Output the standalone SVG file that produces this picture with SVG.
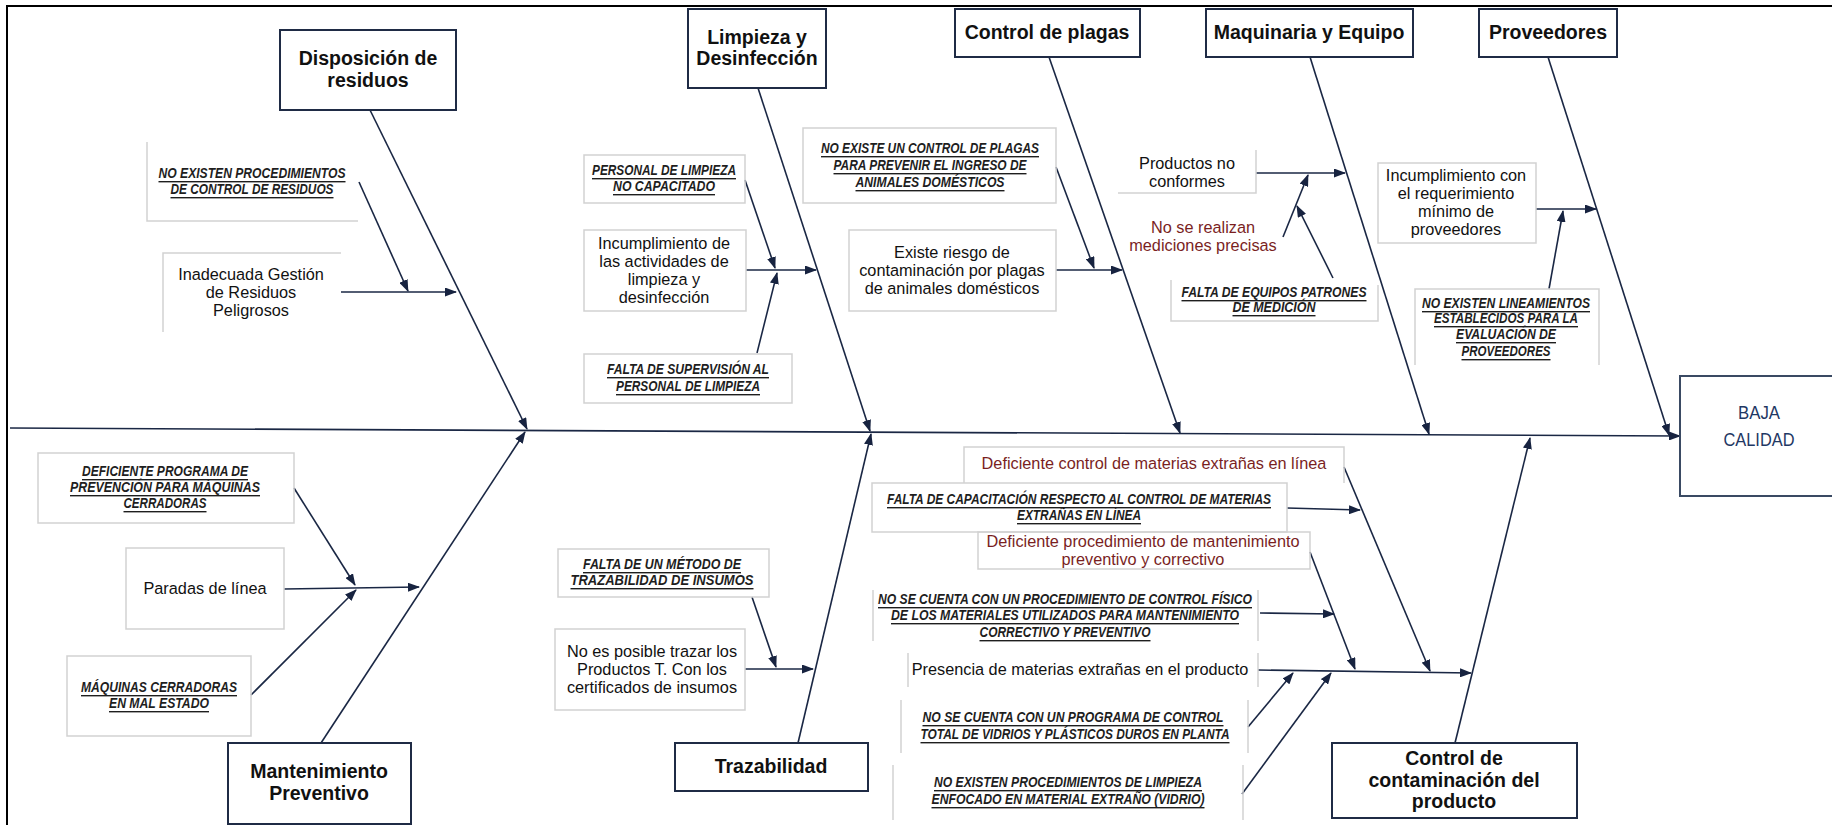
<svg xmlns="http://www.w3.org/2000/svg" width="1832" height="825" viewBox="0 0 1832 825">
<style>
.cat{fill:#fff;stroke:#1f2b45;stroke-width:2}
.ct{font-family:"Liberation Sans",Arial,sans-serif;font-weight:bold;font-size:19.5px;fill:#111;text-anchor:middle;dominant-baseline:central}
.sb{fill:none;stroke:#d2d2d2;stroke-width:1.5}
.t{font-family:"Liberation Sans",Arial,sans-serif;font-size:16.3px;fill:#111;text-anchor:middle;dominant-baseline:central}
.red{fill:#7a1f1f}
.it{font-family:"Liberation Sans Narrow","Liberation Sans",Arial,sans-serif;font-weight:bold;font-style:italic;font-size:14px;fill:#1e1e1e;text-anchor:middle;dominant-baseline:central;text-decoration:underline}
.c{stroke:#1a2744;stroke-width:1.6;fill:none;marker-end:url(#ah)}
.bj{font-family:"Liberation Sans Narrow","Liberation Sans",Arial,sans-serif;font-size:19px;fill:#1f3864;text-anchor:middle;dominant-baseline:central}
</style>
<defs>
<marker id="ah" markerUnits="userSpaceOnUse" markerWidth="12" markerHeight="9" refX="11" refY="4.5" orient="auto">
<path d="M0,0 L12,4.5 L0,9 z" fill="#172340"/>
</marker>
</defs>
<rect width="1832" height="825" fill="#fff"/>
<path d="M7,825 V6 H1832" fill="none" stroke="#000" stroke-width="2"/>

<g id="connectors">
<line class="c" x1="10" y1="428" x2="1680" y2="436"/>
<line class="c" x1="370" y1="110" x2="527" y2="429"/>
<line class="c" x1="321" y1="743" x2="525" y2="432"/>
<line class="c" x1="758" y1="88" x2="870" y2="431"/>
<line class="c" x1="798" y1="743" x2="871" y2="434"/>
<line class="c" x1="1049" y1="57" x2="1180" y2="433"/>
<line class="c" x1="1310" y1="57" x2="1429" y2="434"/>
<line class="c" x1="1548" y1="57" x2="1669" y2="435"/>
<line class="c" x1="1455" y1="743" x2="1530" y2="438"/>
<line class="c" x1="359" y1="182" x2="408" y2="291"/>
<line class="c" x1="341" y1="292" x2="456" y2="292"/>
<line class="c" x1="745" y1="180" x2="775" y2="268"/>
<line class="c" x1="746" y1="270" x2="816" y2="270"/>
<line class="c" x1="757" y1="353" x2="777" y2="273"/>
<line class="c" x1="1056" y1="167" x2="1094" y2="268"/>
<line class="c" x1="1056" y1="270" x2="1122" y2="270"/>
<line class="c" x1="1256" y1="173" x2="1345" y2="173"/>
<line class="c" x1="1283" y1="237" x2="1308" y2="175"/>
<line class="c" x1="1333" y1="278" x2="1297" y2="206"/>
<line class="c" x1="1536" y1="209" x2="1596" y2="209"/>
<line class="c" x1="1549" y1="289" x2="1563" y2="211"/>
<line class="c" x1="294" y1="488" x2="355" y2="585"/>
<line class="c" x1="284" y1="589" x2="419" y2="587"/>
<line class="c" x1="251" y1="695" x2="356" y2="590"/>
<line class="c" x1="752" y1="597" x2="776" y2="667"/>
<line class="c" x1="745" y1="669" x2="813" y2="669"/>
<line class="c" x1="1344" y1="467" x2="1430" y2="671"/>
<line class="c" x1="1287" y1="508" x2="1360" y2="510"/>
<line class="c" x1="1310" y1="552" x2="1355" y2="669"/>
<line class="c" x1="1260" y1="613" x2="1334" y2="614"/>
<line class="c" x1="1258" y1="670" x2="1471" y2="673"/>
<line class="c" x1="1248" y1="727" x2="1293" y2="673"/>
<line class="c" x1="1242" y1="794" x2="1331" y2="673"/>
</g>

<g id="baja-calidad">
<rect x="1680" y="376" width="170" height="120" fill="#fff" stroke="#3a4a63" stroke-width="2"/>
<text class="bj" x="1759" y="412" textLength="42" lengthAdjust="spacingAndGlyphs">BAJA</text>
<text class="bj" x="1759" y="439" textLength="71" lengthAdjust="spacingAndGlyphs">CALIDAD</text>
</g>

<g id="cat-disposicion">
<rect class="cat" x="280" y="30" width="176" height="80"/>
<text class="ct" x="368" y="58">Disposición de</text>
<text class="ct" x="368" y="80">residuos</text>
</g>
<g id="cat-limpieza">
<rect class="cat" x="688" y="9" width="138" height="79"/>
<text class="ct" x="757" y="37">Limpieza y</text>
<text class="ct" x="757" y="58">Desinfección</text>
</g>
<g id="cat-plagas">
<rect class="cat" x="955" y="9" width="185" height="48"/>
<text class="ct" x="1047" y="32">Control de plagas</text>
</g>
<g id="cat-maquinaria">
<rect class="cat" x="1206" y="9" width="207" height="48"/>
<text class="ct" x="1309" y="32">Maquinaria y Equipo</text>
</g>
<g id="cat-proveedores">
<rect class="cat" x="1479" y="9" width="138" height="48"/>
<text class="ct" x="1548" y="32">Proveedores</text>
</g>
<g id="cat-mantenimiento">
<rect class="cat" x="228" y="743" width="183" height="81"/>
<text class="ct" x="319" y="771">Mantenimiento</text>
<text class="ct" x="319" y="793">Preventivo</text>
</g>
<g id="cat-trazabilidad">
<rect class="cat" x="675" y="743" width="193" height="48"/>
<text class="ct" x="771" y="766">Trazabilidad</text>
</g>
<g id="cat-contaminacion">
<rect class="cat" x="1332" y="743" width="245" height="75"/>
<text class="ct" x="1454" y="758">Control de</text>
<text class="ct" x="1454" y="780">contaminación del</text>
<text class="ct" x="1454" y="801">producto</text>
</g>

<g id="res-no-existen">
<path class="sb" d="M147,142 V221 H358"/>
<text class="it" x="252" y="173" textLength="187" lengthAdjust="spacingAndGlyphs">NO EXISTEN PROCEDIMIENTOS</text>
<text class="it" x="252" y="189" textLength="163" lengthAdjust="spacingAndGlyphs">DE CONTROL DE RESIDUOS</text>
</g>
<g id="res-inadecuada">
<path class="sb" d="M163,332 V253 H341"/>
<text class="t" x="251" y="274">Inadecuada Gestión</text>
<text class="t" x="251" y="292">de Residuos</text>
<text class="t" x="251" y="310">Peligrosos</text>
</g>

<g id="lim-personal">
<rect class="sb" x="584" y="155" width="161" height="48"/>
<text class="it" x="664" y="170" textLength="144" lengthAdjust="spacingAndGlyphs">PERSONAL DE LIMPIEZA</text>
<text class="it" x="664" y="186" textLength="102" lengthAdjust="spacingAndGlyphs">NO CAPACITADO</text>
</g>
<g id="lim-incumplimiento">
<rect class="sb" x="584" y="230" width="162" height="81"/>
<text class="t" x="664" y="243">Incumplimiento de</text>
<text class="t" x="664" y="261">las actividades de</text>
<text class="t" x="664" y="279">limpieza y</text>
<text class="t" x="664" y="297">desinfección</text>
</g>
<g id="lim-supervision">
<rect class="sb" x="584" y="354" width="208" height="49"/>
<text class="it" x="688" y="369" textLength="162" lengthAdjust="spacingAndGlyphs">FALTA DE SUPERVISIÓN AL</text>
<text class="it" x="688" y="386" textLength="144" lengthAdjust="spacingAndGlyphs">PERSONAL DE LIMPIEZA</text>
</g>

<g id="pla-no-existe">
<rect class="sb" x="803" y="128" width="253" height="75"/>
<text class="it" x="930" y="148" textLength="218" lengthAdjust="spacingAndGlyphs">NO EXISTE UN CONTROL DE PLAGAS</text>
<text class="it" x="930" y="165" textLength="193" lengthAdjust="spacingAndGlyphs">PARA PREVENIR EL INGRESO DE</text>
<text class="it" x="930" y="182" textLength="149" lengthAdjust="spacingAndGlyphs">ANIMALES DOMÉSTICOS</text>
</g>
<g id="pla-riesgo">
<rect class="sb" x="849" y="230" width="207" height="81"/>
<text class="t" x="952" y="252">Existe riesgo de</text>
<text class="t" x="952" y="270">contaminación por plagas</text>
<text class="t" x="952" y="288">de animales domésticos</text>
</g>

<g id="maq-productos">
<path class="sb" d="M1118,193 H1256 V150"/>
<text class="t" x="1187" y="163">Productos no</text>
<text class="t" x="1187" y="181">conformes</text>
</g>
<g id="maq-mediciones">
<text class="t red" x="1203" y="227">No se realizan</text>
<text class="t red" x="1203" y="245">mediciones precisas</text>
</g>
<g id="maq-falta-equipos">
<path class="sb" d="M1171,280 V321 H1378 V285"/>
<text class="it" x="1274" y="292" textLength="185" lengthAdjust="spacingAndGlyphs">FALTA DE EQUIPOS PATRONES</text>
<text class="it" x="1274" y="307" textLength="83" lengthAdjust="spacingAndGlyphs">DE MEDICIÓN</text>
</g>

<g id="pro-incumplimiento">
<rect class="sb" x="1378" y="163" width="158" height="80"/>
<text class="t" x="1456" y="175">Incumplimiento con</text>
<text class="t" x="1456" y="193">el requerimiento</text>
<text class="t" x="1456" y="211">mínimo de</text>
<text class="t" x="1456" y="229">proveedores</text>
</g>
<g id="pro-lineamientos">
<path class="sb" d="M1415,365 V289 H1599 V365"/>
<text class="it" x="1506" y="303" textLength="168" lengthAdjust="spacingAndGlyphs">NO EXISTEN LINEAMIENTOS</text>
<text class="it" x="1506" y="318" textLength="144" lengthAdjust="spacingAndGlyphs">ESTABLECIDOS PARA LA</text>
<text class="it" x="1506" y="334" textLength="100" lengthAdjust="spacingAndGlyphs">EVALUACIÓN DE</text>
<text class="it" x="1506" y="351" textLength="89" lengthAdjust="spacingAndGlyphs">PROVEEDORES</text>
</g>

<g id="man-deficiente">
<rect class="sb" x="38" y="453" width="256" height="70"/>
<text class="it" x="165" y="471" textLength="166" lengthAdjust="spacingAndGlyphs">DEFICIENTE PROGRAMA DE</text>
<text class="it" x="165" y="487" textLength="190" lengthAdjust="spacingAndGlyphs">PREVENCIÓN PARA MÁQUINAS</text>
<text class="it" x="165" y="503" textLength="83" lengthAdjust="spacingAndGlyphs">CERRADORAS</text>
</g>
<g id="man-paradas">
<rect class="sb" x="126" y="548" width="158" height="81"/>
<text class="t" x="205" y="588">Paradas de línea</text>
</g>
<g id="man-maquinas">
<rect class="sb" x="67" y="656" width="184" height="80"/>
<text class="it" x="159" y="687" textLength="156" lengthAdjust="spacingAndGlyphs">MÁQUINAS CERRADORAS</text>
<text class="it" x="159" y="703" textLength="100" lengthAdjust="spacingAndGlyphs">EN MAL ESTADO</text>
</g>

<g id="tra-metodo">
<rect class="sb" x="558" y="549" width="211" height="48"/>
<text class="it" x="662" y="564" textLength="158" lengthAdjust="spacingAndGlyphs">FALTA DE UN MÉTODO DE</text>
<text class="it" x="662" y="580" textLength="183" lengthAdjust="spacingAndGlyphs">TRAZABILIDAD DE INSUMOS</text>
</g>
<g id="tra-no-es-posible">
<rect class="sb" x="555" y="629" width="190" height="81"/>
<text class="t" x="652" y="651">No es posible trazar los</text>
<text class="t" x="652" y="669">Productos T. Con los</text>
<text class="t" x="652" y="687">certificados de insumos</text>
</g>

<g id="con-deficiente-control">
<path class="sb" d="M964,483 V447 H1344 V483"/>
<text class="t red" x="1154" y="463">Deficiente control de materias extrañas en línea</text>
</g>
<g id="con-capacitacion">
<rect class="sb" x="872" y="483" width="415" height="49" fill="#fff"/>
<text class="it" x="1079" y="499" textLength="384" lengthAdjust="spacingAndGlyphs">FALTA DE CAPACITACIÓN RESPECTO AL CONTROL DE MATERIAS</text>
<text class="it" x="1079" y="515" textLength="124" lengthAdjust="spacingAndGlyphs">EXTRAÑAS EN LÍNEA</text>
</g>
<g id="con-procedimiento">
<rect class="sb" x="978" y="532" width="332" height="37" fill="#fff"/>
<text class="t red" x="1143" y="541">Deficiente procedimiento de mantenimiento</text>
<text class="t red" x="1143" y="559">preventivo y correctivo</text>
</g>
<g id="con-fisico">
<path class="sb" d="M873,590 V641 M1258,590 V641"/>
<text class="it" x="1065" y="599" textLength="374" lengthAdjust="spacingAndGlyphs">NO SE CUENTA CON UN PROCEDIMIENTO DE CONTROL FÍSICO</text>
<text class="it" x="1065" y="615" textLength="348" lengthAdjust="spacingAndGlyphs">DE LOS MATERIALES UTILIZADOS PARA MANTENIMIENTO</text>
<text class="it" x="1065" y="632" textLength="171" lengthAdjust="spacingAndGlyphs">CORRECTIVO Y PREVENTIVO</text>
</g>
<g id="con-presencia">
<path class="sb" d="M908,653 V687 M1258,653 V687"/>
<text class="t" x="1080" y="669">Presencia de materias extrañas en el producto</text>
</g>
<g id="con-programa">
<path class="sb" d="M901,700 V753 M1248,700 V753"/>
<text class="it" x="1073" y="717" textLength="301" lengthAdjust="spacingAndGlyphs">NO SE CUENTA CON UN PROGRAMA DE CONTROL</text>
<text class="it" x="1075" y="734" textLength="309" lengthAdjust="spacingAndGlyphs">TOTAL DE VIDRIOS Y PLÁSTICOS DUROS EN PLANTA</text>
</g>
<g id="con-limpieza">
<path class="sb" d="M893,765 V820 M1243,765 V820"/>
<text class="it" x="1068" y="782" textLength="268" lengthAdjust="spacingAndGlyphs">NO EXISTEN PROCEDIMIENTOS DE LIMPIEZA</text>
<text class="it" x="1068" y="799" textLength="273" lengthAdjust="spacingAndGlyphs">ENFOCADO EN MATERIAL EXTRAÑO (VIDRIO)</text>
</g>
</svg>
